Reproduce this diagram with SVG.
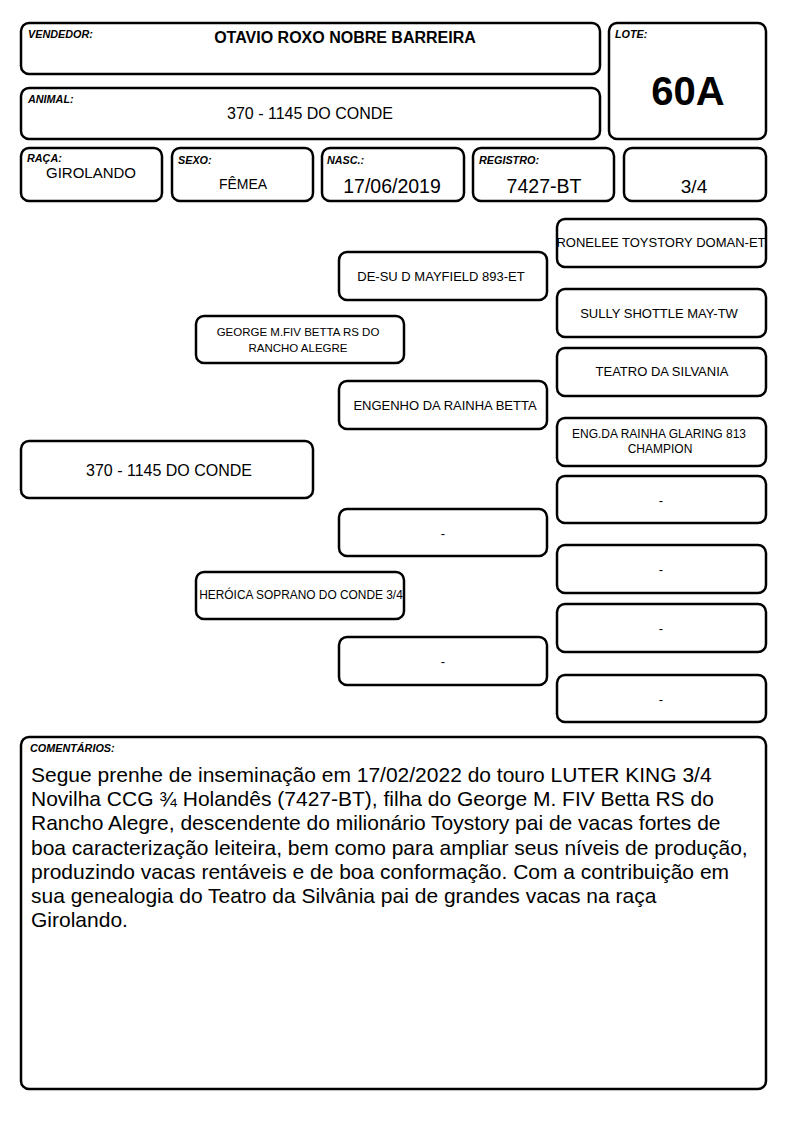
<svg xmlns="http://www.w3.org/2000/svg" width="794" height="1123" viewBox="0 0 794 1123">
<style>
.b{fill:#fff;stroke:#000;stroke-width:2.5}
.lb{font-family:"Liberation Sans",Arial,sans-serif;font-size:10.8px;font-weight:bold;font-style:italic}
.t{font-family:"Liberation Sans",Arial,sans-serif;text-anchor:middle}
.p{font-family:"Liberation Sans",Arial,sans-serif;text-anchor:middle;font-size:13px}
.c{font-family:"Liberation Sans",Arial,sans-serif;font-size:21px}
</style>
<rect width="794" height="1123" fill="#fff"/>
<g id="vendedor"><rect class="b" x="21" y="23" width="579" height="51" rx="8"/><text class="lb" x="28" y="38">VENDEDOR:</text><text class="t" x="345" y="43" font-size="16" font-weight="bold">OTAVIO ROXO NOBRE BARREIRA</text></g>
<g id="lote"><rect class="b" x="609" y="23" width="157" height="116" rx="8"/><text class="lb" x="615" y="38">LOTE:</text><text class="t" x="688" y="105" font-size="40" font-weight="bold">60A</text></g>
<g id="animal"><rect class="b" x="21" y="88" width="579" height="51" rx="8"/><text class="lb" x="28" y="103">ANIMAL:</text><text class="t" x="310" y="119" font-size="16">370 - 1145 DO CONDE</text></g>
<g id="raca"><rect class="b" x="21" y="148" width="141" height="53" rx="8"/><text class="lb" x="27" y="162">RAÇA:</text><text class="t" x="91" y="178" font-size="15">GIROLANDO</text></g>
<g id="sexo"><rect class="b" x="172" y="148" width="141" height="53" rx="8"/><text class="lb" x="178" y="164">SEXO:</text><text class="t" x="243" y="189" font-size="14">FÊMEA</text></g>
<g id="nasc"><rect class="b" x="322" y="148" width="142" height="53" rx="8"/><text class="lb" x="327" y="164">NASC.:</text><text class="t" x="392" y="193" font-size="19.5">17/06/2019</text></g>
<g id="registro"><rect class="b" x="473" y="148" width="141" height="53" rx="8"/><text class="lb" x="479" y="164">REGISTRO:</text><text class="t" x="544" y="193" font-size="19.5">7427-BT</text></g>
<g id="grau"><rect class="b" x="624" y="148" width="142" height="53" rx="8"/><text class="t" x="694" y="193" font-size="19">3/4</text></g>
<g id="connectors"></g>
<g id="main"><rect class="b" x="21" y="441" width="292" height="57" rx="8"/><text class="t" x="169" y="476" font-size="16">370 - 1145 DO CONDE</text></g>
<g id="sire"><rect class="b" x="196" y="316" width="208" height="47" rx="8"/><text class="t" x="298" y="336" font-size="11.5">GEORGE M.FIV BETTA RS DO</text><text class="t" x="298" y="352" font-size="11.5">RANCHO ALEGRE</text></g>
<g id="dam"><rect class="b" x="196" y="572" width="208" height="47" rx="8"/><text class="t" x="301" y="599" font-size="11.9">HERÓICA SOPRANO DO CONDE 3/4</text></g>
<g id="ss"><rect class="b" x="339" y="252" width="208" height="48" rx="8"/><text class="p" x="441" y="281">DE-SU D MAYFIELD 893-ET</text></g>
<g id="sd"><rect class="b" x="339" y="381" width="208" height="48" rx="8"/><text class="p" x="445" y="410">ENGENHO DA RAINHA BETTA</text></g>
<g id="ds"><rect class="b" x="339" y="509" width="208" height="47" rx="8"/><text class="p" x="443" y="538">-</text></g>
<g id="dd"><rect class="b" x="339" y="637" width="208" height="48" rx="8"/><text class="p" x="443" y="666">-</text></g>
<g id="sss"><rect class="b" x="557" y="219" width="209" height="48" rx="8"/><text class="p" x="661" y="247">RONELEE TOYSTORY DOMAN-ET</text></g>
<g id="ssd"><rect class="b" x="557" y="289" width="209" height="48" rx="8"/><text class="p" x="659" y="318">SULLY SHOTTLE MAY-TW</text></g>
<g id="sds"><rect class="b" x="557" y="348" width="209" height="48" rx="8"/><text class="p" x="662" y="376">TEATRO DA SILVANIA</text></g>
<g id="sdd"><rect class="b" x="557" y="418" width="209" height="48" rx="8"/><text class="t" x="659" y="438" font-size="12">ENG.DA RAINHA GLARING 813</text><text class="t" x="660" y="453" font-size="12">CHAMPION</text></g>
<g id="dss"><rect class="b" x="557" y="476" width="209" height="47" rx="8"/><text class="p" x="661" y="505">-</text></g>
<g id="dsd"><rect class="b" x="557" y="545" width="209" height="48" rx="8"/><text class="p" x="661" y="574">-</text></g>
<g id="dds"><rect class="b" x="557" y="604" width="209" height="48" rx="8"/><text class="p" x="661" y="633">-</text></g>
<g id="ddd"><rect class="b" x="557" y="675" width="209" height="47" rx="8"/><text class="p" x="661" y="704">-</text></g>
<g id="comentarios"><rect class="b" x="21" y="737" width="745" height="352" rx="8"/><text class="lb" x="30" y="752" font-size="11.2">COMENTÁRIOS:</text>
<text class="c" x="31" y="782">Segue prenhe de inseminação em 17/02/2022 do touro LUTER KING 3/4</text>
<text class="c" x="31" y="806">Novilha CCG ¾ Holandês (7427-BT), filha do George M. FIV Betta RS do</text>
<text class="c" x="31" y="830">Rancho Alegre, descendente do milionário Toystory pai de vacas fortes de</text>
<text class="c" x="31" y="855">boa caracterização leiteira, bem como para ampliar seus níveis de produção,</text>
<text class="c" x="31" y="879">produzindo vacas rentáveis e de boa conformação. Com a contribuição em</text>
<text class="c" x="31" y="903">sua genealogia do Teatro da Silvânia pai de grandes vacas na raça</text>
<text class="c" x="31" y="927">Girolando.</text></g>
</svg>
